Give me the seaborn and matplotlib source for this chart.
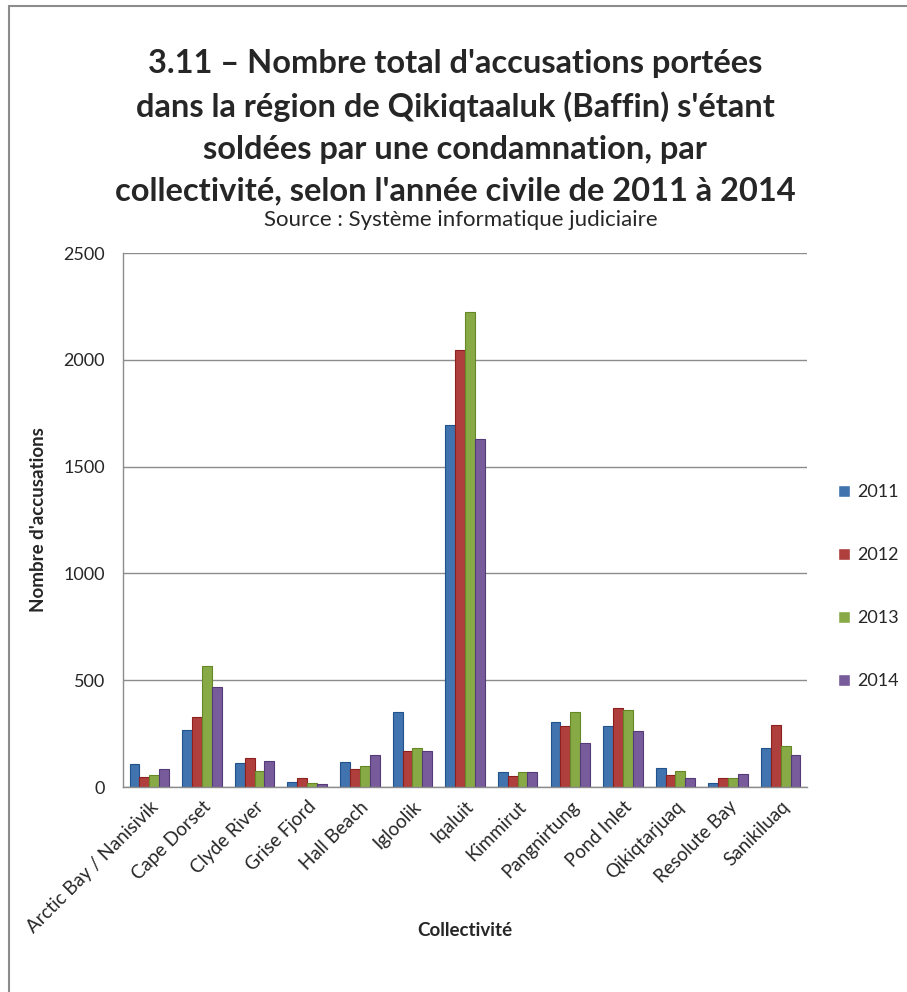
import pandas as pd
import matplotlib.pyplot as plt
import seaborn as sns
from matplotlib.patches import Rectangle

# Chart data
communities = ["Arctic Bay / Nanisivik", "Cape Dorset", "Clyde River", "Grise Fjord",
               "Hall Beach", "Igloolik", "Iqaluit", "Kimmirut", "Pangnirtung",
               "Pond Inlet", "Qikiqtarjuaq", "Resolute Bay", "Sanikiluaq"]
years = ["2011", "2012", "2013", "2014"]
v2011 = [110, 266, 112, 23, 115, 353, 1697, 72, 302, 284, 88, 21, 181]
v2012 = [47, 328, 135, 42, 86, 170, 2046, 52, 286, 372, 58, 41, 288]
v2013 = [57, 566, 75, 17, 100, 184, 2224, 72, 349, 362, 77, 41, 193]
v2014 = [84, 468, 123, 12, 152, 170, 1627, 72, 204, 260, 42, 62, 152]
colors = ["#2F72C0", "#C12D2A", "#8DBA36", "#7650A4"]
edges = ["#22528C", "#8C201E", "#668726", "#553A78"]

df = pd.DataFrame({"Collectivité": communities, "2011": v2011, "2012": v2012,
                   "2013": v2013, "2014": v2014})
df = df.melt(id_vars="Collectivité", var_name="Année", value_name="Accusations")

sns.set_style("white")
plt.rcParams["font.family"] = ["Lato", "DejaVu Sans"]

fig = plt.figure(figsize=(9.07, 9.92), dpi=100)
ax = fig.add_axes([123 / 907, 1 - 787 / 992, 684 / 907, 534 / 992])

sns.barplot(data=df, x="Collectivité", y="Accusations", hue="Année",
            hue_order=years, palette=colors, width=0.75, ax=ax, legend=True)

for i, cont in enumerate(ax.containers):
    for bar in cont:
        bar.set_edgecolor(edges[i])
        bar.set_linewidth(0.8)

ax.set_ylim(0, 2500)
ax.set_xlim(-0.5, len(communities) - 0.5)
ax.set_yticks(range(0, 2501, 500))
ax.yaxis.grid(True, color="#8C8C8C", linewidth=1.0)
ax.set_axisbelow(True)
for s in ["top", "right"]:
    ax.spines[s].set_visible(False)
for s in ["left", "bottom"]:
    ax.spines[s].set_color("#8C8C8C")
    ax.spines[s].set_linewidth(1.0)

ax.tick_params(axis="y", length=6, color="#8C8C8C", labelsize=13, pad=7)
ax.set_xticks(range(len(communities)))
ax.set_xticklabels(communities, rotation=45, ha="right", rotation_mode="anchor",
                   fontsize=13.5)
ax.tick_params(axis="x", which="major", length=0, pad=8)
ax.set_xticks([i - 0.5 for i in range(len(communities) + 1)], minor=True)
ax.tick_params(axis="x", which="minor", length=6, color="#8C8C8C")

ax.set_ylabel("Nombre d'accusations", fontsize=13.5, fontweight="bold", labelpad=12)
ax.set_xlabel("")
fig.text(0.512, 1 - 930 / 992, "Collectivité", fontsize=13.5, fontweight="bold",
         ha="center", va="center")

ax.legend(loc="center left", bbox_to_anchor=(1.022, 0.375), frameon=False,
          labelspacing=2.6, handlelength=0.65, handleheight=0.65,
          handletextpad=0.4, fontsize=13)

fig.text(0.502, 1 - 127 / 992,
         "3.11 – Nombre total d'accusations portées\n"
         "dans la région de Qikiqtaaluk (Baffin) s'étant\n"
         "soldées par une condamnation, par\n"
         "collectivité, selon l'année civile de 2011 à 2014",
         fontsize=23.5, fontweight="bold", ha="center", va="center",
         linespacing=1.53)
fig.text(0.508, 1 - 220 / 992, "Source : Système informatique judiciaire",
         fontsize=16, ha="center", va="center")

fig.patches.append(Rectangle((8.5 / 907, -0.5), 2, 0.5 + 1 - 5.5 / 992,
                             transform=fig.transFigure, fill=False,
                             edgecolor="#8C8C8C", linewidth=1.5))

fig.savefig("out.png", dpi=100)
